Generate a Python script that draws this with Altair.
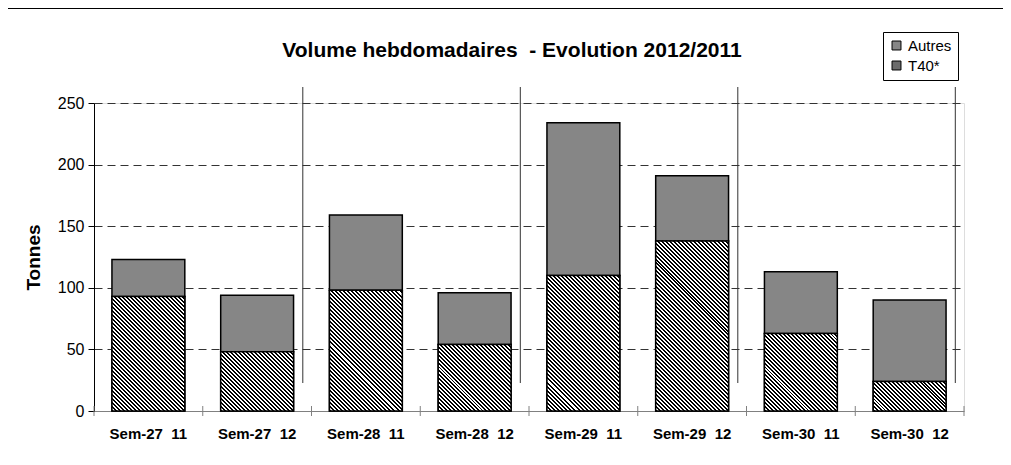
import altair as alt
import pandas as pd

categories = ["Sem-27\u00a0 11", "Sem-27\u00a0 12", "Sem-28\u00a0 11", "Sem-28\u00a0 12",
              "Sem-29\u00a0 11", "Sem-29\u00a0 12", "Sem-30\u00a0 11", "Sem-30\u00a0 12"]
t40 = [93, 48, 98, 54, 110, 138, 63, 24]
autres = [30, 46, 61, 42, 124, 53, 50, 66]
series = ["Autres", "T40*"]
y_ticks = [0, 50, 100, 150, 200, 250]

rows = []
for c, a, t in zip(categories, autres, t40):
    rows.append({"cat": c, "serie": "T40*", "val": t, "ord": 0})
    rows.append({"cat": c, "serie": "Autres", "val": a, "ord": 1})
df = pd.DataFrame(rows)
t40_df = pd.DataFrame({"cat": categories, "val": t40})
sep_df = pd.DataFrame({"cat": categories[1::2]})
tick_df = pd.DataFrame({"cat": categories})
one = pd.DataFrame({"k": [0]})

FONT = "Liberation Sans"
W, H = 870, 308
YMAX = 250
STEP = W / len(categories)
BAND = 0.67
BAR_W = STEP * BAND

xscale = alt.Scale(domain=categories, paddingInner=0, paddingOuter=0)
yscale = alt.Scale(domain=[0, YMAX], nice=False)


def hatch_for(value):
    """45-degree black/white stripes (about 4px period) for a bar of this value."""
    w = BAR_W
    h = value * H / YMAX
    n = max(1, int(round((w + h) / 4.0)))
    k = (w + h) / (w * w + h * h)
    stops = []
    for i in range(n):
        stops.append(alt.GradientStop(color="#000000", offset=i / n))
        stops.append(alt.GradientStop(color="#000000", offset=(i + 0.5) / n))
        stops.append(alt.GradientStop(color="#ffffff", offset=(i + 0.5) / n))
        stops.append(alt.GradientStop(color="#ffffff", offset=(i + 1) / n))
    return alt.LinearGradient(gradient="linear", stops=stops,
                              x1=0, y1=1, x2=k * w, y2=1 - k * h)


bars = alt.Chart(df).mark_bar(width={"band": BAND}, stroke="black", strokeWidth=1.5).encode(
    x=alt.X("cat:N", scale=xscale, sort=categories,
            axis=alt.Axis(title=None, labelAngle=0, labelAlign="center", ticks=False,
                          domainColor="#808080", bandPosition=0.5,
                          labelFont=FONT, labelFontSize=15, labelFontWeight="bold",
                          labelColor="black", labelPadding=22)),
    y=alt.Y("val:Q", stack="zero", scale=yscale,
            axis=alt.Axis(title="Tonnes", values=y_ticks, grid=True, gridColor="#333333",
                          gridDash=[8, 5], gridWidth=1, domainColor="black", tickColor="black",
                          tickSize=6, labelFont=FONT, labelFontSize=16, labelColor="black",
                          labelPadding=4, titleFont=FONT, titleFontSize=19, titleFontWeight="bold",
                          titleColor="black", titlePadding=14)),
    color=alt.Color("serie:N", scale=alt.Scale(domain=series, range=["#868686", "#6c6c6c"]),
                    legend=alt.Legend(title=None, orient="none", legendX=789, legendY=-71,
                                      strokeColor="black", padding=6, symbolType="square",
                                      symbolSize=80, symbolStrokeColor="black", symbolStrokeWidth=1,
                                      labelFont=FONT, labelFontSize=15, labelColor="black",
                                      rowPadding=4, fillColor="white")),
    order=alt.Order("ord:Q"),
)

t40_layers = []
for c, v in zip(categories, t40):
    t40_layers.append(
        alt.Chart(t40_df).transform_filter(alt.datum.cat == c)
        .mark_bar(width={"band": BAND}, stroke="black", strokeWidth=1.5, color=hatch_for(v))
        .encode(x=alt.X("cat:N", scale=xscale, sort=categories),
                y=alt.Y("val:Q", scale=yscale))
    )

ticks = alt.Chart(tick_df).mark_rule(color="#808080", xOffset=-STEP / 2).encode(
    x=alt.X("cat:N", scale=xscale, sort=categories),
    y=alt.value(H - 5), y2=alt.value(H + 5),
)
end_tick = alt.Chart(one).mark_rule(color="#808080").encode(
    x=alt.value(W), y=alt.value(H - 5), y2=alt.value(H + 5),
)
seps = alt.Chart(sep_df).mark_rule(color="#333333", strokeWidth=1, xOffset=0.42 * STEP).encode(
    x=alt.X("cat:N", scale=xscale, sort=categories),
    y=alt.value(-16), y2=alt.value(280),
)
title = alt.Chart(one).mark_text(text="Volume hebdomadaires\u00a0 - Evolution 2012/2011",
                                 font=FONT, fontSize=21, fontWeight="bold", color="black",
                                 align="center", baseline="alphabetic").encode(
    x=alt.value(418), y=alt.value(-46),
)
header = alt.Chart(one).mark_rule(color="black", strokeWidth=2).encode(
    x=alt.value(-86), x2=alt.value(909), y=alt.value(-95),
)

chart = alt.layer(seps, bars, *t40_layers, ticks, end_tick, title, header).properties(
    width=W, height=H,
    autosize=alt.AutoSizeParams(type="none"),
    padding={"left": 86, "top": 95, "right": 39, "bottom": 46},
).configure_view(stroke=None).configure(font=FONT)

chart.save("out.html", embed_options={"renderer": "svg", "actions": False})
